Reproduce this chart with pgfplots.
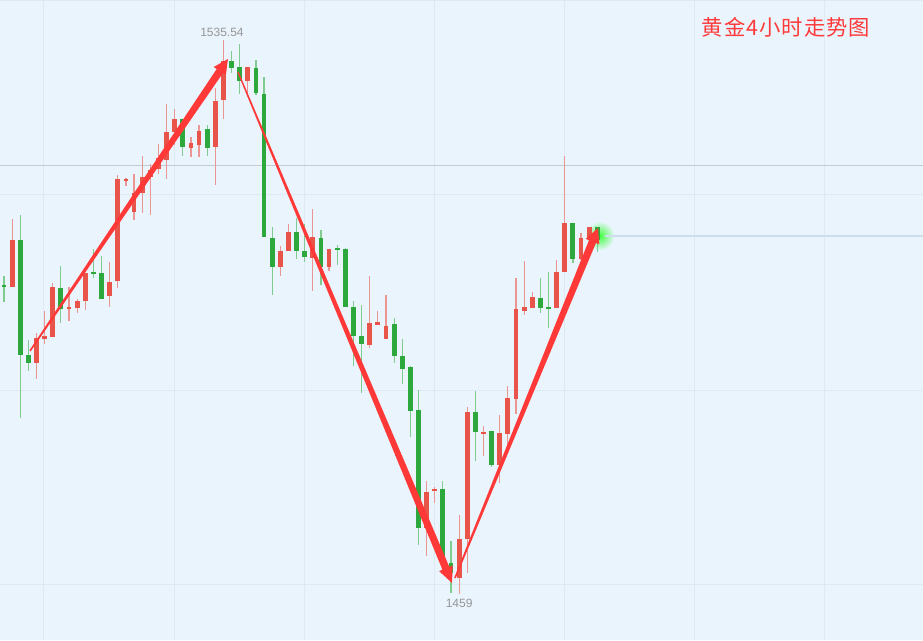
\documentclass[border=0pt]{standalone}
\usepackage{fontspec}
\setmainfont{Liberation Sans}
\newfontfamily\cjk[LetterSpace=5]{Noto Sans CJK SC}
\usepackage{pgfplots}
\usepackage{pgfplotstable}
\pgfplotsset{compat=1.18}
\usetikzlibrary{calc}

\definecolor{bgc}{RGB}{234,244,253}
\definecolor{gridc}{RGB}{222,233,244}
\definecolor{midline}{RGB}{198,203,209}
\definecolor{lastline}{RGB}{206,222,236}
\definecolor{upbody}{RGB}{232,84,74}
\definecolor{upwick}{RGB}{236,150,148}
\definecolor{dnbody}{RGB}{44,168,60}
\definecolor{dnwick}{RGB}{128,204,144}
\definecolor{arrowred}{RGB}{255,56,56}
\definecolor{titlered}{RGB}{255,58,58}
\definecolor{labelgray}{RGB}{150,150,150}

% 4h candles, index = bar number, o h l c
% red = close above open
\pgfplotstableread{
i  o       h       l       c
1  1501.48 1510.82 1501.43 1507.92
4  1490.94 1495.08 1488.77 1494.39
5  1494.25 1498.12 1493.56 1494.71
6  1494.53 1502.03 1494.53 1501.43
8  1498.40 1501.48 1496.78 1498.67
9  1498.53 1499.78 1497.89 1499.54
10 1499.50 1503.41 1498.26 1503.41
13 1500.19 1504.89 1498.67 1502.17
14 1502.26 1516.90 1501.30 1516.35
15 1516.11 1516.49 1515.42 1516.35
16 1511.79 1517.04 1510.69 1514.41
17 1514.37 1519.52 1511.61 1516.66
18 1516.66 1518.42 1511.38 1517.59
19 1517.69 1521.18 1517.04 1519.25
20 1518.97 1526.70 1516.35 1522.88
21 1522.88 1526.01 1521.04 1524.63
23 1520.59 1522.15 1519.34 1521.28
24 1521.04 1523.80 1519.34 1523.02
26 1520.72 1528.91 1515.52 1527.16
27 1527.26 1535.54 1524.59 1532.68
30 1529.88 1531.77 1527.71 1531.77
34 1504.15 1507.10 1502.99 1506.45
35 1506.41 1510.13 1506.41 1508.99
38 1505.40 1512.16 1500.92 1508.38
40 1504.15 1506.68 1503.69 1506.68
45 1493.43 1502.95 1493.05 1496.42
46 1496.19 1498.12 1496.19 1496.64
47 1494.21 1500.33 1494.21 1496.09
52 1468.12 1474.65 1464.33 1473.17
53 1473.27 1473.86 1471.57 1473.50
56 1461.29 1469.95 1459.00 1466.60
57 1466.60 1484.91 1461.90 1484.22
59 1481.23 1482.24 1478.10 1481.45
61 1476.86 1483.76 1474.41 1481.23
62 1481.14 1487.76 1478.55 1486.07
63 1485.93 1502.72 1483.90 1498.36
64 1498.12 1505.02 1497.57 1498.71
65 1498.58 1500.70 1498.58 1500.01
68 1498.49 1505.16 1498.49 1503.46
69 1503.46 1519.56 1503.46 1510.31
71 1505.30 1508.85 1505.16 1508.24
72 1508.38 1509.76 1507.92 1509.76
}\upT

% green = close below open
\pgfplotstableread{
i  o       h       l       c
0  1501.64 1502.95 1499.40 1501.43
2  1507.92 1511.38 1483.35 1492.04
3  1492.04 1494.12 1489.88 1490.94
7  1501.30 1504.33 1496.50 1498.40
11 1503.41 1506.68 1502.72 1503.23
12 1503.37 1505.72 1499.78 1499.78
22 1524.63 1524.63 1519.52 1520.81
25 1523.21 1523.80 1519.56 1520.67
28 1532.68 1534.06 1530.94 1531.72
29 1531.77 1534.99 1528.08 1529.88
31 1531.72 1532.78 1527.95 1528.26
32 1528.08 1530.39 1508.38 1508.38
33 1508.24 1509.76 1500.33 1504.15
36 1508.99 1511.00 1505.30 1506.41
37 1506.45 1510.13 1504.93 1505.54
39 1508.24 1509.31 1501.71 1504.24
41 1506.86 1507.23 1504.47 1506.54
42 1506.64 1506.78 1498.63 1498.63
43 1498.71 1499.50 1490.53 1494.67
44 1494.71 1498.95 1486.84 1493.56
48 1496.28 1497.11 1490.98 1491.91
49 1491.91 1494.21 1488.00 1490.07
50 1490.35 1490.60 1480.68 1484.35
51 1484.45 1487.21 1465.81 1468.12
54 1473.50 1474.65 1463.05 1463.28
55 1463.28 1466.36 1459.18 1461.90
58 1484.22 1487.07 1477.41 1481.41
60 1481.55 1481.55 1476.58 1476.86
66 1499.96 1502.72 1497.80 1498.49
67 1498.71 1503.55 1495.73 1498.49
70 1510.31 1510.31 1504.79 1505.30
73 1509.76 1509.76 1506.31 1507.92
}\dnT

% tapered arrow: start, tip, start half width, shaft half width, head length, head half width
\newcommand\taper[6]{%
  \coordinate (TA) at (#1);
  \coordinate (TB) at (#2);
  \coordinate (TH) at ($(TB)!#5!(TA)$);
  \fill[arrowred] ($(TA)!#3!90:(TB)$) -- ($(TH)!#4!90:(TB)$) -- ($(TH)!#6!90:(TB)$)
    -- (TB) -- ($(TH)!#6!-90:(TB)$) -- ($(TH)!#4!-90:(TB)$) -- ($(TA)!#3!-90:(TB)$) -- cycle;
}

\pgfplotsset{
  wick/.style={draw=none, mark=none, forget plot,
    error bars/.cd, y dir=both, y explicit, error mark=none,
    error bar style={draw=#1, line width=0.9pt}},
  body/.style={draw=none, mark=none, forget plot,
    error bars/.cd, y dir=both, y explicit, error mark=none,
    error bar style={draw=#1, line width=3.6pt}},
}

\begin{document}
\begin{tikzpicture}
\useasboundingbox (0,0) rectangle (692.25pt,480pt);
\begin{axis}[
    at={(0,0)}, anchor=south west,
    scale only axis,
    width=692.25pt, height=480pt,
    xmin=-0.492, xmax=113.08,
    ymin=1452.69, ymax=1541.063,
    axis background/.style={fill=bgc},
    axis line style={draw=none},
    tick style={draw=none},
    xtick={4.92,20.92,36.92,52.91,68.91,84.91,100.91},
    ytick={1460.29,1487.21,1514.14,1540.95},
    xticklabels={}, yticklabels={},
    grid=major,
    major grid style={draw=gridc, line width=0.75pt},
    clip=true,
]

\draw[midline, line width=0.8pt] (axis cs:-1,1518.21) -- (axis cs:114,1518.21);

% glow on the last bar
\shade[inner color=green!75!white, outer color=bgc] (axis cs:73.3,1508.5) circle[radius=11pt];
\draw[lastline, line width=0.8pt] (axis cs:74,1508.48) -- (axis cs:114,1508.48);

\addplot[wick=upwick] table[x=i, y expr=(\thisrow{h}+\thisrow{l})/2,
  y error expr=(\thisrow{h}-\thisrow{l})/2] {\upT};
\addplot[wick=dnwick] table[x=i, y expr=(\thisrow{h}+\thisrow{l})/2,
  y error expr=(\thisrow{h}-\thisrow{l})/2] {\dnT};
\addplot[body=upbody] table[x=i, y expr=(\thisrow{o}+\thisrow{c})/2,
  y error expr={max(abs(\thisrow{o}-\thisrow{c})/2,0.13)}] {\upT};
\addplot[body=dnbody] table[x=i, y expr=(\thisrow{o}+\thisrow{c})/2,
  y error expr={max(abs(\thisrow{o}-\thisrow{c})/2,0.13)}] {\dnT};

\taper{axis cs:3.20,1492.60}{axis cs:27.56,1532.92}{0.6pt}{2.8pt}{11pt}{5.5pt}
\taper{axis cs:28.79,1531.12}{axis cs:55.13,1460.56}{0.5pt}{2.8pt}{12pt}{5.5pt}
\taper{axis cs:55.49,1461.25}{axis cs:73.09,1509.58}{0.6pt}{2.8pt}{11pt}{5.5pt}

\node[text=labelgray, font=\fontsize{9pt}{10pt}\selectfont] at (axis cs:26.82,1536.64) {1535.54};
\node[text=labelgray, font=\fontsize{9pt}{10pt}\selectfont] at (axis cs:56.0,1457.80) {1459};
\node[text=titlered, font=\cjk\fontsize{16pt}{18pt}\selectfont] at (axis cs:96.22,1537.33) {黄金4小时走势图};
\end{axis}
\end{tikzpicture}
\end{document}
